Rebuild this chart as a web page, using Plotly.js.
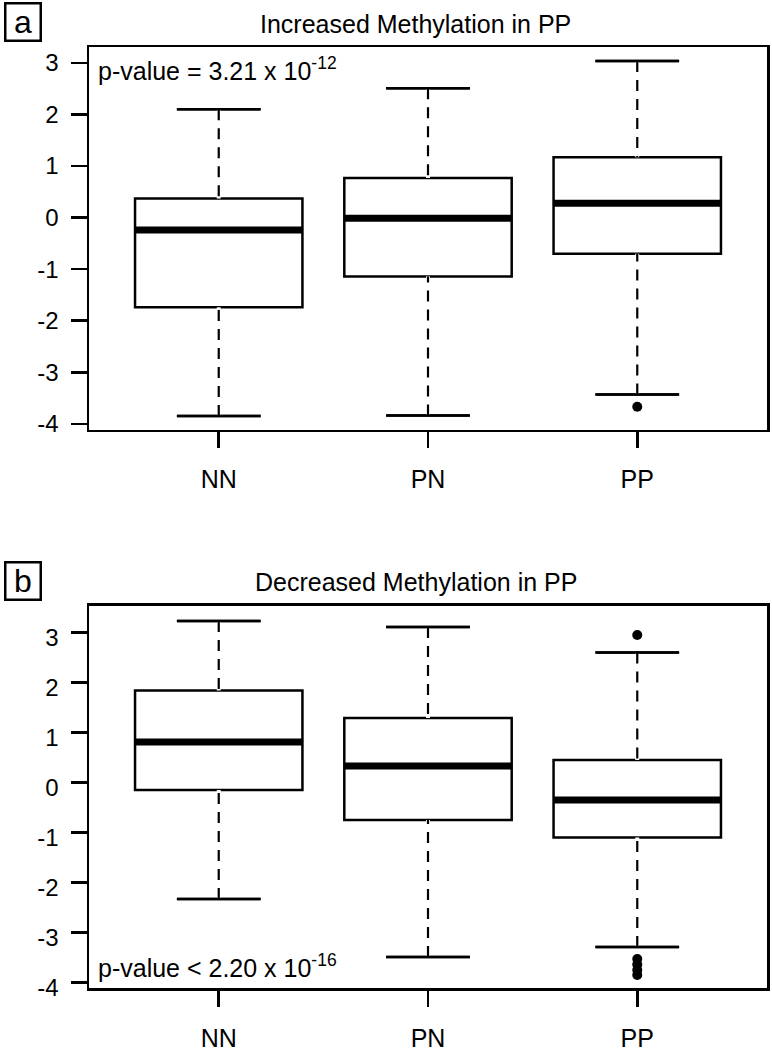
<!DOCTYPE html>
<html>
<head>
<meta charset="utf-8">
<script src="https://cdn.plot.ly/plotly-3.0.1.min.js"></script>
<style>
  body { margin: 0; background: #fff; }
  #grafico { width: 772px; height: 1050px; }
</style>
</head>
<body>
<div id="grafico"></div>
<script>
// Categorias (grupos)
const categories = ['NN', 'PN', 'PP'];

// Painel a: Increased Methylation in PP
const incLower = [-3.85, -3.84, -3.43];
const incQ1 = [-1.74, -1.14, -0.70];
const incMedian = [-0.24, -0.01, 0.28];
const incQ3 = [0.37, 0.77, 1.17];
const incUpper = [2.10, 2.51, 3.04];
const incOutlierCat = ['PP'];
const incOutlierY = [-3.67];

// Painel b: Decreased Methylation in PP
const decLower = [-2.33, -3.49, -3.29];
const decQ1 = [-0.15, -0.75, -1.10];
const decMedian = [0.81, 0.33, -0.35];
const decQ3 = [1.84, 1.29, 0.45];
const decUpper = [3.23, 3.11, 2.60];
const decOutlierCat = ['PP', 'PP', 'PP', 'PP', 'PP'];
const decOutlierY = [2.95, -3.53, -3.64, -3.75, -3.85];

const yTicks = [-4, -3, -2, -1, 0, 1, 2, 3];
const yTickText = ['-4', '-3', '-2', '-1', '0', '1', '2', '3'];

const pos = categories.map((c, i) => i + 1);
const boxWidth = 0.8;
const capHalf = boxWidth * 0.25;

// monta as caixas de um painel
function panelTraces(xa, ya, lower, q1, med, q3, upper, outCat, outY) {
    const wx = [], wy = [], cx = [], cy = [], mx = [], my = [];
    pos.forEach((p, i) => {
        wx.push(p, p, null, p, p, null);
        wy.push(upper[i], q3[i], null, lower[i], q1[i], null);
        cx.push(p - capHalf, p + capHalf, null, p - capHalf, p + capHalf, null);
        cy.push(upper[i], upper[i], null, lower[i], lower[i], null);
        mx.push(p - boxWidth / 2, p + boxWidth / 2, null);
        my.push(med[i], med[i], null);
    });
    const common = { xaxis: xa, yaxis: ya, hoverinfo: 'skip', showlegend: false };
    return [
        Object.assign({
            type: 'box', x: pos, q1: q1, median: med, q3: q3,
            lowerfence: lower, upperfence: upper,
            width: boxWidth, whiskerwidth: 0.5, boxpoints: false,
            fillcolor: 'white', line: { color: 'black', width: 2.5 }
        }, common),
        // apaga o bigode sólido e redesenha tracejado
        Object.assign({ type: 'scatter', mode: 'lines', x: wx, y: wy,
            line: { color: 'white', width: 4 } }, common),
        Object.assign({ type: 'scatter', mode: 'lines', x: wx, y: wy,
            line: { color: 'black', width: 2.2, dash: '11px,8px' } }, common),
        Object.assign({ type: 'scatter', mode: 'lines', x: cx, y: cy,
            line: { color: 'black', width: 2.5 } }, common),
        Object.assign({ type: 'scatter', mode: 'lines', x: mx, y: my,
            line: { color: 'black', width: 7 } }, common),
        Object.assign({ type: 'scatter', mode: 'markers',
            x: outCat.map(c => categories.indexOf(c) + 1), y: outY,
            marker: { color: 'black', size: 10 } }, common)
    ];
}

const data = [].concat(
    panelTraces('x', 'y', incLower, incQ1, incMedian, incQ3, incUpper, incOutlierCat, incOutlierY),
    panelTraces('x2', 'y2', decLower, decQ1, decMedian, decQ3, decUpper, decOutlierCat, decOutlierY)
);

const font = { family: 'Liberation Sans, Arial, sans-serif', size: 24, color: 'black' };

const xAxisBase = {
    range: [0.38, 3.62], tickvals: pos, ticktext: categories,
    showline: true, mirror: true, linecolor: 'black', linewidth: 2.5,
    ticks: 'outside', ticklen: 16, tickwidth: 2.5, tickcolor: 'black',
    ticklabelstandoff: 10, showgrid: false, zeroline: false,
    tickfont: { size: 25 }
};
const yAxisBase = {
    tickvals: yTicks, ticktext: yTickText,
    showline: true, mirror: true, linecolor: 'black', linewidth: 2.5,
    ticks: 'outside', ticklen: 16, tickwidth: 2.5, tickcolor: 'black',
    ticklabelstandoff: 7, showgrid: false, zeroline: false,
    tickfont: { size: 24 }
};

const layout = {
    width: 772, height: 1050,
    margin: { l: 89, r: 5, t: 47, b: 62 },
    font: font,
    paper_bgcolor: 'white', plot_bgcolor: 'white',
    showlegend: false,
    xaxis: Object.assign({}, xAxisBase, { anchor: 'y' }),
    yaxis: Object.assign({}, yAxisBase, { domain: [0.593, 1], range: [-4.12, 3.31], anchor: 'x' }),
    xaxis2: Object.assign({}, xAxisBase, { anchor: 'y2' }),
    yaxis2: Object.assign({}, yAxisBase, { domain: [0, 0.406], range: [-4.11, 3.53], anchor: 'x2', ticklabelshift: 5 }),
    annotations: [
        { text: 'Increased Methylation in PP', xref: 'paper', yref: 'paper',
          x: 0.482, y: 1.0245, xanchor: 'center', yanchor: 'middle', showarrow: false,
          font: { size: 25 } },
        { text: 'Decreased Methylation in PP', xref: 'paper', yref: 'paper',
          x: 0.482, y: 0.4315, xanchor: 'center', yanchor: 'middle', showarrow: false,
          font: { size: 25 } },
        { text: 'p-value = 3.21 x 10<sup>-12</sup>', xref: 'x domain', yref: 'y domain',
          x: 0.01, y: 0.99, xanchor: 'left', yanchor: 'top', showarrow: false, font: { size: 25 } },
        { text: 'p-value < 2.20 x 10<sup>-16</sup>', xref: 'x2 domain', yref: 'y2 domain',
          x: 0.01, y: 0.01, xanchor: 'left', yanchor: 'bottom', showarrow: false, font: { size: 25 } },
        { text: 'a', xref: 'paper', yref: 'paper', x: -0.098, y: 1.027,
          xanchor: 'center', yanchor: 'middle', showarrow: false, font: { size: 32 },
          width: 33, height: 35, bordercolor: 'black', borderwidth: 2.5, borderpad: 0 },
        { text: 'b', xref: 'paper', yref: 'paper', x: -0.098, y: 0.433,
          xanchor: 'center', yanchor: 'middle', showarrow: false, font: { size: 32 },
          width: 33, height: 35, bordercolor: 'black', borderwidth: 2.5, borderpad: 0 }
    ]
};

Plotly.newPlot('grafico', data, layout, { staticPlot: true });
</script>
</body>
</html>
